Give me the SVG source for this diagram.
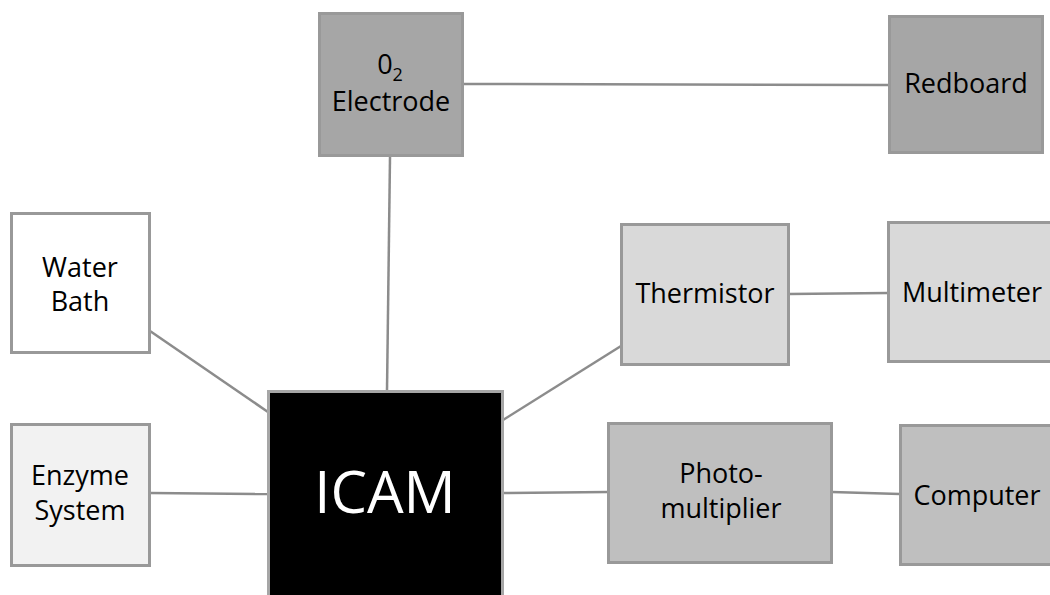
<svg xmlns="http://www.w3.org/2000/svg" width="1050" height="595" viewBox="0 0 1050 595">
<style>
.box{stroke:#999999;stroke-width:3}
.t{font-family:"Open Sans","Liberation Sans",sans-serif;font-size:27px;fill:#000;text-anchor:middle}
.c{stroke:#8c8c8c;stroke-width:2.5;fill:none}
</style>
<rect width="1050" height="595" fill="#ffffff"/>
<g id="connectors">
<line class="c" x1="463" y1="84" x2="889" y2="85"/>
<line class="c" x1="390" y1="157" x2="387" y2="391"/>
<line class="c" x1="150" y1="331" x2="268" y2="412"/>
<line class="c" x1="150" y1="493" x2="268" y2="494"/>
<line class="c" x1="503" y1="420" x2="621" y2="346"/>
<line class="c" x1="503" y1="493" x2="608" y2="492"/>
<line class="c" x1="789" y1="294" x2="888" y2="293"/>
<line class="c" x1="832" y1="492" x2="900" y2="494"/>
</g>
<g id="o2electrode">
<rect class="box" x="319.5" y="13.5" width="143" height="142" fill="#a6a6a6"/>
<text class="t" x="390" y="74">0<tspan font-size="18" dy="7">2</tspan></text>
<text class="t" x="391" y="111">Electrode</text>
</g>
<g id="redboard">
<rect class="box" x="889.5" y="16.5" width="153" height="136" fill="#a6a6a6"/>
<text class="t" x="966" y="93">Redboard</text>
</g>
<g id="waterbath">
<rect class="box" x="11.5" y="213.5" width="138" height="139" fill="#ffffff"/>
<text class="t" x="80" y="277">Water</text>
<text class="t" x="80" y="311">Bath</text>
</g>
<g id="enzymesystem">
<rect class="box" x="11.5" y="424.5" width="138" height="141" fill="#f2f2f2"/>
<text class="t" x="80" y="485">Enzyme</text>
<text class="t" x="80" y="520">System</text>
</g>
<g id="icam">
<rect x="268.5" y="391.5" width="234" height="210" fill="#000000" stroke="#a6a6a6" stroke-width="3"/>
<text class="t" x="385" y="513" style="fill:#ffffff;font-size:58px">ICAM</text>
</g>
<g id="thermistor">
<rect class="box" x="621.5" y="224.5" width="167" height="140" fill="#d9d9d9"/>
<text class="t" x="705" y="303">Thermistor</text>
</g>
<g id="multimeter">
<rect class="box" x="888.5" y="222.5" width="170" height="139" fill="#d9d9d9"/>
<text class="t" x="972" y="302">Multimeter</text>
</g>
<g id="photomultiplier">
<rect class="box" x="608.5" y="423.5" width="223" height="139" fill="#bfbfbf"/>
<text class="t" x="721" y="483">Photo-</text>
<text class="t" x="721" y="518">multiplier</text>
</g>
<g id="computer">
<rect class="box" x="900.5" y="425.5" width="160" height="139" fill="#bfbfbf"/>
<text class="t" x="977" y="505">Computer</text>
</g>
</svg>
